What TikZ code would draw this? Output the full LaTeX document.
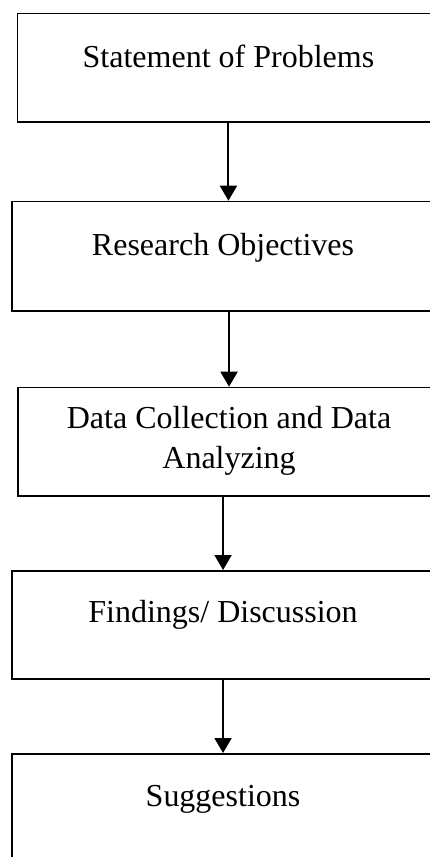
\documentclass[tikz,border=0pt]{standalone}
\usepackage{fontspec}
\setmainfont{Liberation Serif}
\usetikzlibrary{arrows.meta}

\begin{document}
\begin{tikzpicture}[x=1pt,y=-1pt,
   font=\fontsize{32}{39.7}\selectfont,
   stage/.style={draw, line width=1.5pt, inner sep=0pt, anchor=north west,
                 minimum width=422pt},
   flow/.style={line width=2pt, -{Triangle[width=17pt,length=15pt]}}]
   \path[use as bounding box, clip] (0,0) rectangle (430,857);
   \node[stage, text height=54pt, text depth=54.3pt] (prob) at (16.7,12.7) {Statement of Problems};
   \node[stage, text height=54.3pt, text depth=55pt] (obj)  at (11.3,200.7) {Research Objectives};
   \node[stage, text height=41pt, text depth=67.3pt] (data) at (17.3,386.7)
        {\begin{tabular}[t]{@{}c@{}}Data Collection and Data\\Analyzing\end{tabular}};
   \node[stage, text height=51.7pt, text depth=56.3pt] (find) at (11.3,570) {Findings/ Discussion};
   \node[stage, text height=53pt, text depth=120pt] (sugg) at (11.3,753) {Suggestions};
   \draw[flow] (prob.south) -- (prob.south |- obj.north);
   \draw[flow] (data.north |- obj.south) -- (data.north);
   \draw[flow] (find.north |- data.south) -- (find.north);
   \draw[flow] (find.south) -- (sugg.north);
\end{tikzpicture}
\end{document}
